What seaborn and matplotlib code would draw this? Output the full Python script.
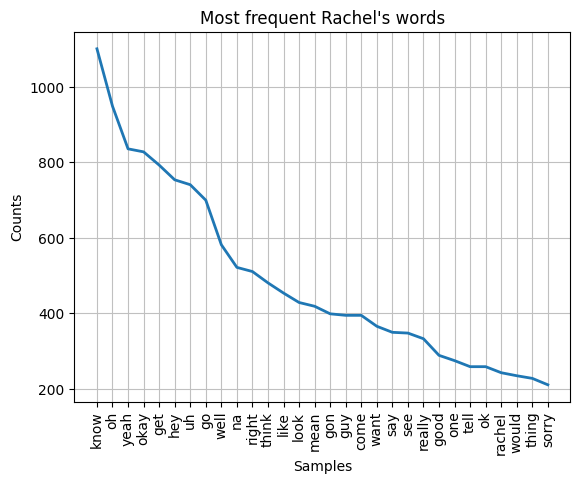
import matplotlib
matplotlib.use("Agg")
import matplotlib.pyplot as plt
import seaborn as sns

words = ['know', 'oh', 'yeah', 'okay', 'get', 'hey', 'uh', 'go', 'well', 'na',
         'right', 'think', 'like', 'look', 'mean', 'gon', 'guy', 'come', 'want', 'say',
         'see', 'really', 'good', 'one', 'tell', 'ok', 'rachel', 'would', 'thing', 'sorry']
counts = [1101, 949, 836, 828, 793, 754, 741, 700, 582, 522,
          511, 481, 454, 429, 419, 399, 395, 395, 366, 350,
          348, 333, 289, 275, 259, 259, 243, 235, 228, 211]

positions = list(range(len(words)))

fig, ax = plt.subplots(figsize=(6.4, 4.8))
sns.lineplot(x=positions, y=counts, ax=ax, linewidth=2, color='#1f77b4')
ax.grid(True, color='silver')
ax.set_xticks(positions)
ax.set_xticklabels(words, rotation=90)
ax.set_title("Most frequent Rachel's words")
ax.set_xlabel('Samples')
ax.set_ylabel('Counts')

plt.savefig('out.png', dpi=100, bbox_inches='tight')
